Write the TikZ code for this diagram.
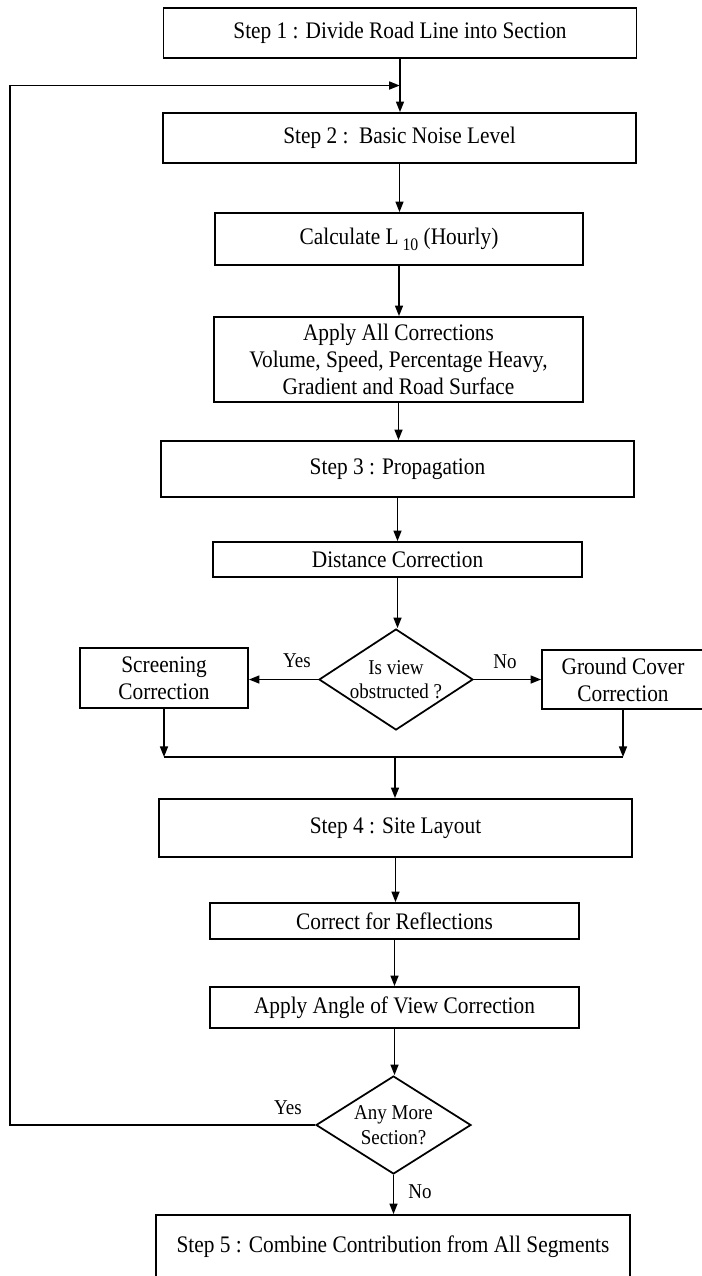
\documentclass[tikz,border=0pt]{standalone}
\usepackage{fontspec}
\setmainfont[FakeStretch=0.9]{Liberation Serif}
\usetikzlibrary{shapes.geometric,arrows.meta,calc}
\begin{document}
\begin{tikzpicture}[x=0.02cm,y=-0.02cm,
  box/.style={draw, line width=1pt, inner sep=0pt, align=center, font=\fontsize{13.5}{15.5}\selectfont},
  dia/.style={draw, diamond, line width=1pt, inner sep=0pt},
  arr/.style={line width=1pt, -{Triangle[length=6pt,width=4.5pt]}},
  conn/.style={line width=1pt},
  lbl/.style={font=\fontsize{12}{13}\selectfont, inner sep=0pt},
  dtext/.style={align=center, font=\fontsize{12}{14}\selectfont, inner sep=0pt}]
\useasboundingbox[fill=white] (0,0) rectangle (702,1276);

\node[box, minimum width=9.46cm, minimum height=1.0cm] (b1) at (400,33) {Step 1 : Divide Road Line into Section};
\node[box, minimum width=9.46cm, minimum height=1.0cm] (b2) at (399.5,138) {Step 2 :\ \ Basic Noise Level};
\node[box, minimum width=7.36cm, minimum height=1.04cm] (b3) at (399,239) {Calculate L\,\raisebox{-0.55ex}{\fontsize{10}{10}\selectfont 10} (Hourly)};
\node[box, minimum width=7.38cm, minimum height=1.70cm] (b4) at (398.5,359.5) {Apply All Corrections\\Volume, Speed, Percentage Heavy,\\Gradient and Road Surface};
\node[box, minimum width=9.46cm, minimum height=1.12cm] (b5) at (397.5,469) {Step 3 : Propagation};
\node[box, minimum width=7.38cm, minimum height=0.70cm] (b6) at (397.5,559.5) {Distance Correction};
\node[dia, minimum width=3.08cm, minimum height=2.02cm] (d1) at (396,679.5) {};
\node[dtext] (d1t) at (d1) {Is view\\obstructed ?};
\node[box, minimum width=3.36cm, minimum height=1.20cm] (scr) at (164,678) {Screening\\Correction};
\node[box, minimum width=3.24cm, minimum height=1.18cm] (gnd) at (623,679.5) {Ground Cover\\Correction};
\node[box, minimum width=9.46cm, minimum height=1.16cm] (b7) at (395.5,828) {Step 4 : Site Layout};
\node[box, minimum width=7.38cm, minimum height=0.72cm] (b8) at (394.5,921) {Correct for Reflections};
\node[box, minimum width=7.38cm, minimum height=0.82cm] (b9) at (394.5,1007.5) {Apply Angle of View Correction};
\node[dia, minimum width=3.10cm, minimum height=1.96cm] (d2) at (393.5,1125) {};
\node[dtext] (d2t) at (d2) {Any More\\Section?};
\node[box, minimum width=9.48cm, minimum height=1.28cm] (b10) at (393,1247) {Step 5 : Combine Contribution from All Segments};

\node[lbl] (y1) at (297,661) {Yes};
\node[lbl] (n1) at (505,662) {No};
\node[lbl] (y2) at (288,1108) {Yes};
\node[lbl] (n2) at (420,1192) {No};

\coordinate (fb) at ($(b1.south)!0.5!(b2.north)$);
\coordinate (leftx) at (10,0);
\coordinate (merge) at (395,757);

\draw[arr] (b1.south) -- (b1.south|-b2.north);
\draw[arr] (b2.south) -- (b2.south|-b3.north);
\draw[arr] (b3.south) -- (b3.south|-b4.north);
\draw[arr] (b4.south) -- (b4.south|-b5.north);
\draw[arr] (b5.south) -- (b5.south|-b6.north);
\draw[arr] (b6.south) -- (b6.south|-d1.north);
\draw[arr] (d1.west) -- (d1.west-|scr.east);
\draw[arr] (d1.east) -- (d1.east-|gnd.west);
\draw[arr] (scr.south) -- (scr.south|-merge);
\draw[arr] (gnd.south) -- (gnd.south|-merge);
\draw[conn] (scr.south|-merge) -- (gnd.south|-merge);
\draw[arr] (merge) -- (merge|-b7.north);
\draw[arr] (b7.south) -- (b7.south|-b8.north);
\draw[arr] (b8.south) -- (b8.south|-b9.north);
\draw[arr] (b9.south) -- (b9.south|-d2.north);
\draw[arr] (d2.south) -- (d2.south|-b10.north);
\draw[arr] (d2.west) -- (d2.west-|leftx) |- (fb);
\end{tikzpicture}
\end{document}
